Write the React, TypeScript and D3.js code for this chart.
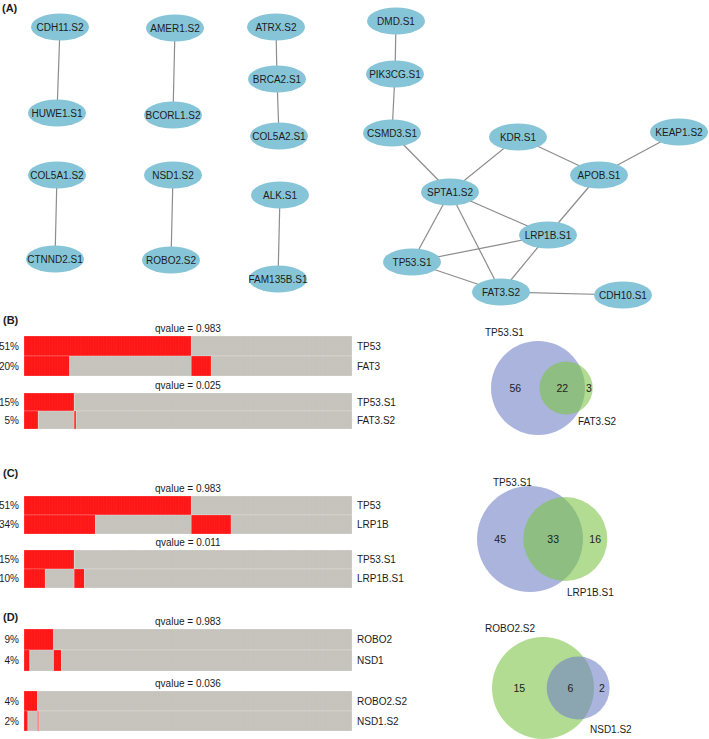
import React from "react";
import * as d3 from "d3";

// ---------- DATA ----------
const nodeNames = ["CDH11.S2","HUWE1.S1","AMER1.S2","BCORL1.S2","ATRX.S2","BRCA2.S1","COL5A2.S1","COL5A1.S2","CTNND2.S1","NSD1.S2","ROBO2.S2","ALK.S1","FAM135B.S1","DMD.S1","PIK3CG.S1","CSMD3.S1","KDR.S1","KEAP1.S2","APOB.S1","SPTA1.S2","LRP1B.S1","TP53.S1","FAT3.S2","CDH10.S1"];
// network layout (Cytoscape-style positions)
const nodeX = [60,57,175,173,276,277,279,57,55,173,171,280,278,396,395,392,518,679,599,450,548,412,501,623];
const nodeY = [27,113,28,115,27,79,136,175,259,175,260,195,279,21,74,133,137,132,175,192,235,262,292,295];
const edgeSources = ["CDH11.S2","AMER1.S2","ATRX.S2","BRCA2.S1","COL5A1.S2","NSD1.S2","ALK.S1","DMD.S1","PIK3CG.S1","CSMD3.S1","KDR.S1","KDR.S1","KEAP1.S2","APOB.S1","SPTA1.S2","SPTA1.S2","SPTA1.S2","TP53.S1","TP53.S1","LRP1B.S1","FAT3.S2"];
const edgeTargets = ["HUWE1.S1","BCORL1.S2","BRCA2.S1","COL5A2.S1","CTNND2.S1","ROBO2.S2","FAM135B.S1","PIK3CG.S1","CSMD3.S1","SPTA1.S2","SPTA1.S2","APOB.S1","APOB.S1","LRP1B.S1","LRP1B.S1","TP53.S1","FAT3.S2","LRP1B.S1","FAT3.S2","FAT3.S2","CDH10.S1"];

const sampleCount = 510;
const panelLabels = ["(B)","(C)","(D)"];
// oncoprints: two per panel (all genes / subtype-specific)
const oncoGeneA = ["TP53","TP53.S1","TP53","TP53.S1","ROBO2","ROBO2.S2"];
const oncoGeneB = ["FAT3","FAT3.S2","LRP1B","LRP1B.S1","NSD1","NSD1.S2"];
const oncoBoth = [71,22,111,33,9,6];
const oncoAOnly = [189,56,149,45,37,15];
const oncoBOnly = [31,3,62,16,12,2];
const oncoQvalue = ["0.983","0.025","0.983","0.011","0.983","0.036"];
// venn diagrams (subtype sets)
const vennSetA = ["TP53.S1","TP53.S1","ROBO2.S2"];
const vennSetB = ["FAT3.S2","LRP1B.S1","NSD1.S2"];
const vennAOnly = [56,45,15];
const vennBoth = [22,33,6];
const vennBOnly = [3,16,2];

// ---------- LAYOUT / STYLE ----------
const W = 709, H = 739;
const FONT = "'Liberation Sans', Arial, Helvetica, sans-serif";
const TXT = "#1c1c1c";
const RED = "#ff1616";
const GREY = "#c6c3bd";
const BLUE = "#7282c6";
const GREEN = "#7dc447";
const NODE_FILL = "#86c5d7";
const oncoTop = [336,393,496,550,629,691];
const oncoRowH = [20,18,19,19,21,20];
const panelLabelY = [324,477,621];
const gridX0 = 24, gridX1 = 352;
const vennCx = [538,530,543];
const vennCy = [388,539,688];
const vennMaxR = [47,53,51];
const vennColorA = [BLUE,BLUE,GREEN];
const vennColorB = [GREEN,GREEN,BLUE];
const vennLabelA = [[485,336],[493,486],[485,632]];
const vennLabelB = [[578,425],[567,596],[590,733]];

function lensArea(r1: number, r2: number, d: number) {
  if (d >= r1 + r2) return 0;
  if (d <= Math.abs(r1 - r2)) return Math.PI * Math.min(r1, r2) ** 2;
  const a = r1 * r1 * Math.acos((d * d + r1 * r1 - r2 * r2) / (2 * d * r1));
  const b = r2 * r2 * Math.acos((d * d + r2 * r2 - r1 * r1) / (2 * d * r2));
  const c = 0.5 * Math.sqrt((-d + r1 + r2) * (d + r1 - r2) * (d - r1 + r2) * (d + r1 + r2));
  return a + b - c;
}
function solveDistance(r1: number, r2: number, target: number) {
  let lo = Math.abs(r1 - r2), hi = r1 + r2;
  for (let i = 0; i < 60; i++) {
    const mid = (lo + hi) / 2;
    if (lensArea(r1, r2, mid) > target) lo = mid; else hi = mid;
  }
  return (lo + hi) / 2;
}

function Oncoprint({ i }: { i: number }) {
  const x = d3.scaleLinear().domain([0, sampleCount]).range([gridX0, gridX1]);
  const both = oncoBoth[i], a = oncoAOnly[i], b = oncoBOnly[i];
  const y0 = oncoTop[i], rh = oncoRowH[i];
  const rows = [
    { name: oncoGeneA[i], n: both + a, segs: [[0, both + a, RED], [both + a, sampleCount, GREY]] },
    { name: oncoGeneB[i], n: both + b, segs: [[0, both, RED], [both, both + a, GREY], [both + a, both + a + b, RED], [both + a + b, sampleCount, GREY]] },
  ];
  const ticks = d3.range(0, sampleCount, 4);
  return (
    <g>
      <text x={(gridX0 + gridX1) / 2} y={y0 - 4.5} textAnchor="middle" fontSize={10} fill={TXT}>{`qvalue = ${oncoQvalue[i]}`}</text>
      {rows.map((r, ri) => {
        const yy = y0 + ri * rh;
        return (
          <g key={ri}>
            {r.segs.filter((s) => (s[1] as number) > (s[0] as number)).map((s, si) => (
              <rect key={si} x={x(s[0] as number)} y={yy} width={x(s[1] as number) - x(s[0] as number)} height={rh} fill={s[2] as string} stroke="#ffffff" strokeOpacity={0.35} strokeWidth={0.6} />
            ))}
            <text x={19} y={yy + rh / 2 + 3.5} textAnchor="end" fontSize={10} fill={TXT}>{`${Math.round((r.n / sampleCount) * 100)}%`}</text>
            <text x={357} y={yy + rh / 2 + 3.5} fontSize={10} fill={TXT}>{r.name}</text>
          </g>
        );
      })}
      <g stroke="#ffffff" strokeOpacity={0.07} strokeWidth={0.5}>
        {ticks.map((t) => (
          <line key={t} x1={x(t)} x2={x(t)} y1={y0} y2={y0 + 2 * rh} />
        ))}
      </g>
    </g>
  );
}

function Venn({ i }: { i: number }) {
  const nA = vennAOnly[i] + vennBoth[i];
  const nB = vennBOnly[i] + vennBoth[i];
  const r = d3.scaleSqrt().domain([0, Math.max(nA, nB)]).range([0, vennMaxR[i]]);
  const rA = r(nA), rB = r(nB);
  const target = (vennBoth[i] / nA) * Math.PI * rA * rA;
  const d = solveDistance(rA, rB, target);
  const cxA = vennCx[i], cxB = vennCx[i] + d, cy = vennCy[i];
  const leftA = cxA - rA, leftB = cxB - rB, rightA = cxA + rA, rightB = cxB + rB;
  const nums = [
    [(leftA + leftB) / 2, vennAOnly[i]],
    [(leftB + rightA) / 2, vennBoth[i]],
    [(rightA + rightB) / 2, vennBOnly[i]],
  ];
  return (
    <g>
      <circle cx={cxA} cy={cy} r={rA} fill={vennColorA[i]} fillOpacity={0.6} />
      <circle cx={cxB} cy={cy} r={rB} fill={vennColorB[i]} fillOpacity={0.6} />
      {nums.map((n, k) => (
        <text key={k} x={n[0]} y={cy + 3.5} textAnchor="middle" fontSize={10.5} fill={TXT}>{n[1]}</text>
      ))}
      <text x={vennLabelA[i][0]} y={vennLabelA[i][1]} fontSize={10} fill={TXT}>{vennSetA[i]}</text>
      <text x={vennLabelB[i][0]} y={vennLabelB[i][1]} fontSize={10} fill={TXT}>{vennSetB[i]}</text>
    </g>
  );
}

export default function App() {
  const pos = new Map(nodeNames.map((n, k) => [n, [nodeX[k], nodeY[k]]]));
  return (
    <svg width={W} height={H} style={{ position: "absolute", left: 0, top: 0, background: "#fff" }} fontFamily={FONT}>
      <rect width={W} height={H} fill="#fff" />
      <text x={2} y={12} fontSize={11} fontWeight="bold" fill={TXT}>(A)</text>
      <g stroke="#8c8c8c" strokeWidth={1.2}>
        {edgeSources.map((s, k) => {
          const a = pos.get(s)!, b = pos.get(edgeTargets[k])!;
          return <line key={k} x1={a[0]} y1={a[1]} x2={b[0]} y2={b[1]} />;
        })}
      </g>
      {nodeNames.map((n, k) => (
        <g key={n}>
          <ellipse cx={nodeX[k]} cy={nodeY[k]} rx={29} ry={13.5} fill={NODE_FILL} />
          <text x={nodeX[k]} y={nodeY[k] + 3.5} textAnchor="middle" fontSize={10} fill={TXT}>{n}</text>
        </g>
      ))}
      {panelLabels.map((p, k) => (
        <text key={p} x={3} y={panelLabelY[k]} fontSize={11} fontWeight="bold" fill={TXT}>{p}</text>
      ))}
      {oncoQvalue.map((_, k) => <Oncoprint key={k} i={k} />)}
      {vennSetA.map((_, k) => <Venn key={k} i={k} />)}
    </svg>
  );
}
